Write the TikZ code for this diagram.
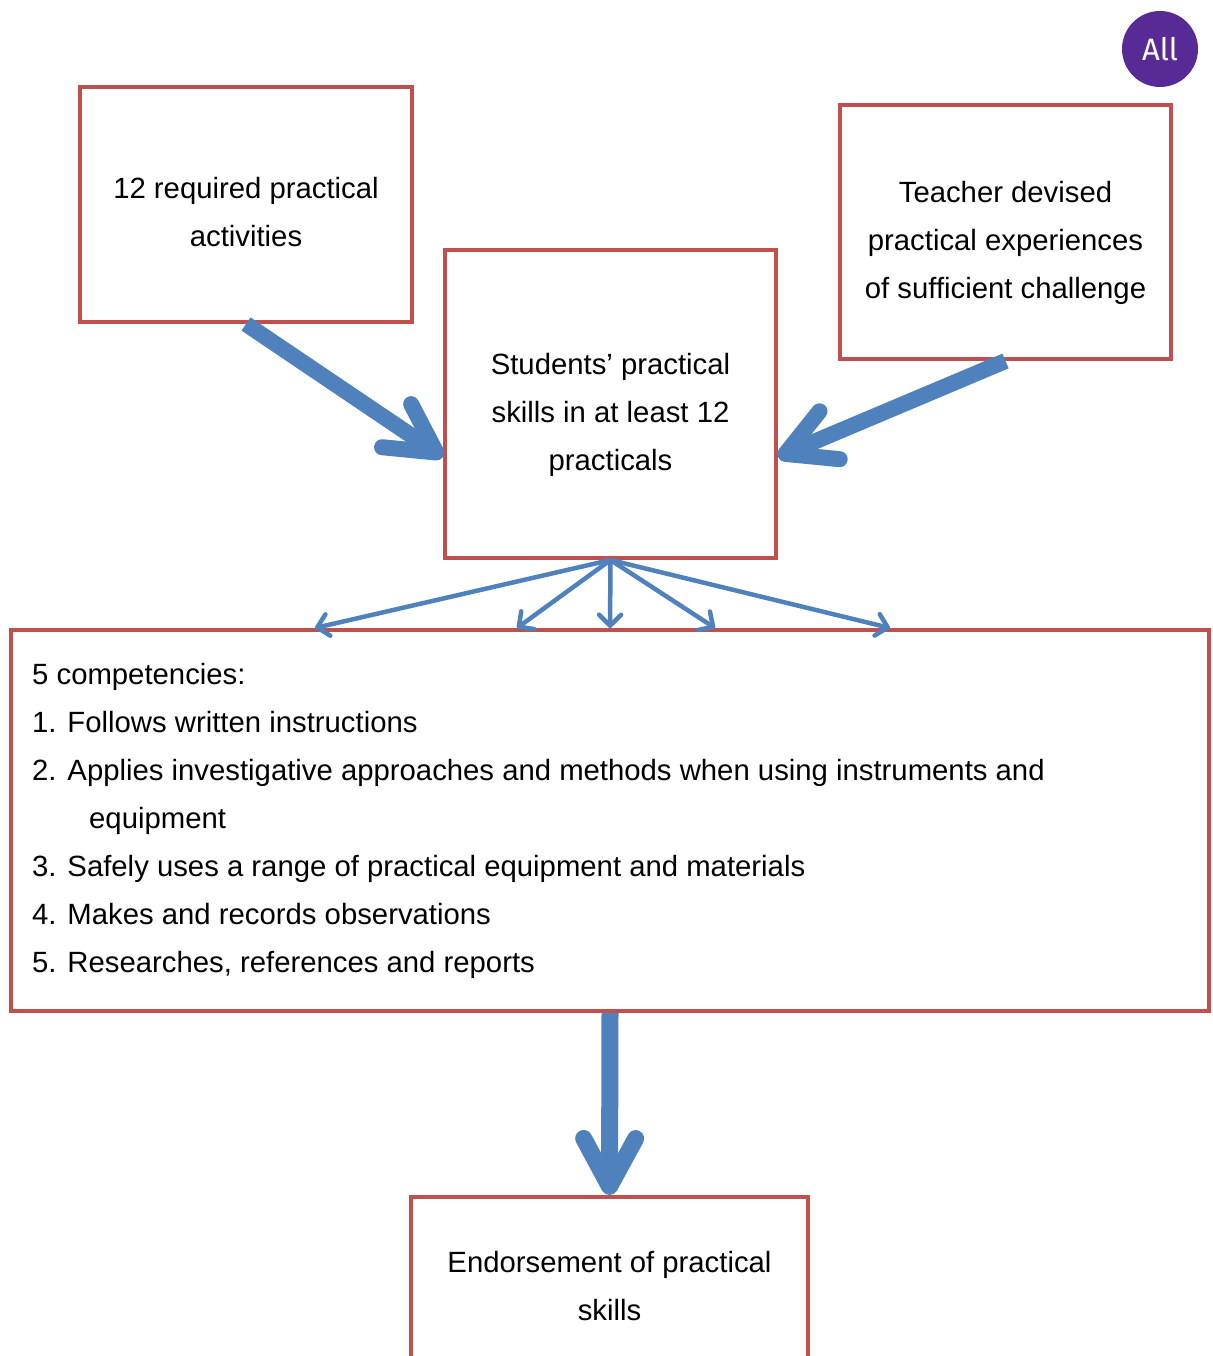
\documentclass[tikz,border=0pt]{standalone}
\usepackage{fontspec}
\setmainfont{Liberation Sans}
\newfontfamily\allfont{Fira Sans}
\usetikzlibrary{arrows.meta}
\definecolor{boxred}{RGB}{192,80,77}
\definecolor{arrowblue}{RGB}{79,129,189}
\definecolor{allpurple}{RGB}{88,42,150}

\begin{document}
\begin{tikzpicture}[x=1pt,y=-1pt,
    redbox/.style={draw=boxred, line width=4pt, rectangle, inner sep=0pt},
    boxtext/.style={align=center, inner sep=0pt, font=\fontsize{29.3pt}{48pt}\selectfont},
    bigarrow/.style={draw=arrowblue, line width=16pt, -{Straight Barb[length=48pt,width=52pt,round]}},
    smallarrow/.style={draw=arrowblue, line width=4.5pt, -{Straight Barb[length=11pt,width=22pt,round]}}]
   \useasboundingbox (0,0) rectangle (1212,1356);

   %draw the "All" badge
   \node[circle, fill=allpurple, minimum size=76pt, inner sep=0pt, text=white,
     font=\allfont\fontsize{31pt}{31pt}\selectfont] (all) at (1160,49) {All};

   %draw boxes
   \node[redbox, minimum width=332pt, minimum height=235pt] (act) at (246,204.5) {};
   \node[boxtext] (acttxt) at ([yshift=-8pt]act.center) {12 required practical\\activities};

   \node[redbox, minimum width=331pt, minimum height=308pt] (skills) at (610.5,404) {};
   \node[boxtext] (skillstxt) at ([yshift=-11pt]skills.center) {Students’ practical\\skills in at least 12\\practicals};

   \node[redbox, minimum width=331pt, minimum height=254pt] (dev) at (1005.5,232) {};
   \node[boxtext] (devtxt) at ([yshift=-11pt]dev.center) {Teacher devised\\practical experiences\\of sufficient challenge};

   \node[redbox, minimum width=1198pt, minimum height=381pt] (comp) at (610,820.5) {};
   \node[boxtext, align=left, anchor=north west] (comptxt) at ([xshift=23pt,yshift=-35pt]comp.north west)
     {5 competencies:\\
      1. Follows written instructions\\
      2. Applies investigative approaches and methods when using instruments and\\
      \hspace*{57pt}equipment\\
      3. Safely uses a range of practical equipment and materials\\
      4. Makes and records observations\\
      5. Researches, references and reports};

   \node[redbox, minimum width=397pt, minimum height=200pt] (endo) at (609.5,1297) {};
   \node[boxtext] (endotxt) at ([yshift=11pt]endo.center) {Endorsement of practical\\skills};

   %draw arrows
   \draw[bigarrow] (act.south) -- ([yshift=-53pt]skills.west);
   \draw[bigarrow] (dev.south) -- ([yshift=-53pt]skills.east);
   \foreach \dx in {-295,-93,0,105,280} {%
     \draw[smallarrow] (skills.south) -- ([xshift=\dx pt]comp.north);
   }
   \draw[bigarrow, line width=17pt] (comp.south) -- (endo.north);
\end{tikzpicture}
\end{document}
